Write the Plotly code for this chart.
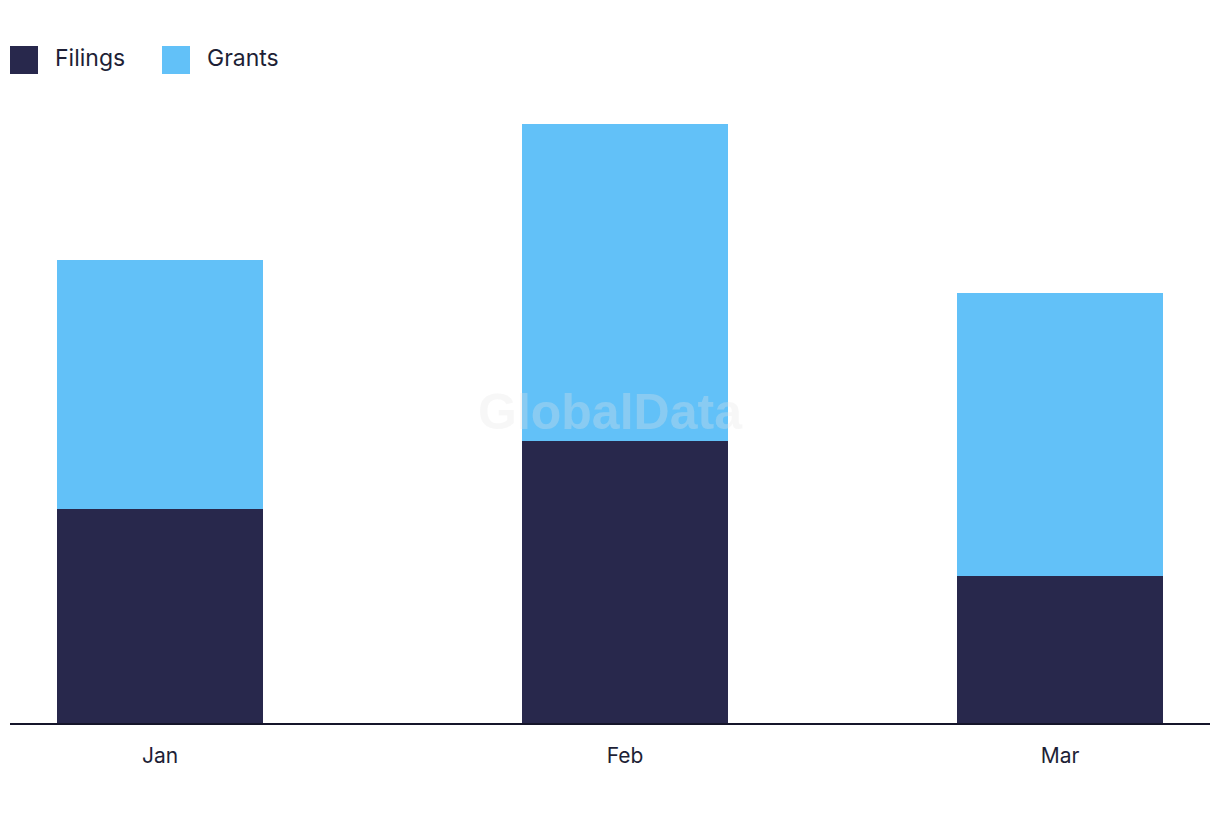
import plotly.graph_objects as go

months = ["2024-01-01", "2024-02-01", "2024-03-01"]
filings = [32, 42.2, 22]
grants = [37.2, 47.3, 42.2]
series_names = ["Filings", "Grants"]

NAVY = "#28284c"
SKY = "#62c1f8"
TEXT = "#1e1f36"

# 페이지 본문 여백(8px) 보정
OFF = 8
# 플롯 영역(화면 픽셀): x 10~1210, y 100~723
L, R, T, B = 10 - OFF, 1210 - OFF, 100 - OFF, 723 - OFF


def px_x(p):
    return (p - OFF - L) / (R - L)


def px_y(p):
    return (B - (p - OFF)) / (B - T)


day_ms = 86400000
bar_width = 13.75 * day_ms

fig = go.Figure()
fig.add_trace(go.Bar(x=months, y=filings, name=series_names[0], marker=dict(color=NAVY, line=dict(width=0)),
                     width=bar_width, hoverinfo="skip"))
fig.add_trace(go.Bar(x=months, y=grants, name=series_names[1], marker=dict(color=SKY, line=dict(width=0)),
                     width=bar_width, hoverinfo="skip"))

# 워터마크
fig.add_annotation(text="<b>GlobalData</b>", x=0.5, y=0.5, xref="paper", yref="paper",
                   showarrow=False, font=dict(size=50, color="rgba(228,228,228,0.3)", family="Liberation Sans"))

# 큰 사각형 범례 (직접 그림)
for name, color, x0 in zip(series_names, [NAVY, SKY], [10, 162]):
    fig.add_shape(type="rect", xref="paper", yref="paper",
                  x0=px_x(x0), x1=px_x(x0 + 28), y0=px_y(74), y1=px_y(46),
                  fillcolor=color, line=dict(width=0), layer="above")
    fig.add_annotation(text=name, xref="paper", yref="paper", x=px_x(x0 + 43), y=px_y(58),
                       xanchor="left", yanchor="middle", showarrow=False,
                       font=dict(size=23, color=TEXT))

fig.update_layout(
    barmode="stack",
    width=1220, height=822,
    margin=dict(l=L, r=1220 - R, t=T, b=822 - B, autoexpand=False),
    paper_bgcolor="white", plot_bgcolor="white",
    font=dict(family="Inter, Lato, sans-serif", color=TEXT, size=21),
    showlegend=False,
    xaxis=dict(type="date", range=["2023-12-22", "2024-03-11"], tickvals=months,
               ticktext=["Jan", "Feb", "Mar"], showgrid=False, zeroline=False,
               showline=True, linecolor="#15152a", linewidth=2, ticks="", ticklabelstandoff=13),
    yaxis=dict(range=[0, 93.1], visible=False, showgrid=False, zeroline=False),
)

fig.write_html("out.html")
